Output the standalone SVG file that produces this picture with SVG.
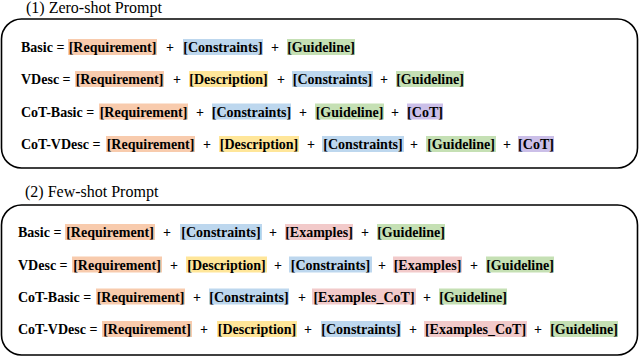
<svg xmlns="http://www.w3.org/2000/svg" width="640" height="357" viewBox="0 0 640 357">
<style>
.panel{fill:#fff;stroke:#000;stroke-width:1.6}
.title{font-family:'Liberation Serif','Times New Roman',Times,'DejaVu Serif',serif;font-size:16px;fill:#000}
.t{font-family:'Liberation Serif','Times New Roman',Times,'DejaVu Serif',serif;font-size:14px;font-weight:bold;fill:#000}
.m{text-anchor:middle}
.req{fill:#F8CBAD}
.con{fill:#BDD7EE}
.gui{fill:#C5E0B4}
.des{fill:#FFE699}
.cot{fill:#CBBFE8}
.ex{fill:#F2CACA}
</style>
<rect width="640" height="357" fill="#fff"/>
<g id="zero-shot">
<text class="title" x="26" y="13" font-family="Liberation Serif">(1) Zero-shot Prompt</text>
<rect class="panel" x="1.5" y="19" width="636" height="149" rx="20"/>
</g>
<g id="zs-basic">
<text class="t" x="21" y="52">Basic =</text>
<rect class="req" x="68" y="39" width="89" height="16"/><text class="t m" x="112.5" y="52">[Requirement]</text>
<text class="t m" x="170" y="52">+</text>
<rect class="con" x="183" y="39" width="80" height="16"/><text class="t m" x="223" y="52">[Constraints]</text>
<text class="t m" x="275" y="52">+</text>
<rect class="gui" x="287" y="39" width="68" height="16"/><text class="t m" x="321" y="52">[Guideline]</text>
</g>
<g id="zs-vdesc">
<text class="t" x="21" y="84">VDesc =</text>
<rect class="req" x="75" y="71" width="89" height="16"/><text class="t m" x="119.5" y="84">[Requirement]</text>
<text class="t m" x="177" y="84">+</text>
<rect class="des" x="189" y="71" width="79" height="16"/><text class="t m" x="228.5" y="84">[Description]</text>
<text class="t m" x="281" y="84">+</text>
<rect class="con" x="292" y="71" width="81" height="16"/><text class="t m" x="332.5" y="84">[Constraints]</text>
<text class="t m" x="384" y="84">+</text>
<rect class="gui" x="396" y="71" width="68" height="16"/><text class="t m" x="430" y="84">[Guideline]</text>
</g>
<g id="zs-cot-basic">
<text class="t" x="21" y="116.5">CoT-Basic =</text>
<rect class="req" x="99" y="103.5" width="89" height="16"/><text class="t m" x="143.5" y="116.5">[Requirement]</text>
<text class="t m" x="200" y="116.5">+</text>
<rect class="con" x="212" y="103.5" width="79" height="16"/><text class="t m" x="251.5" y="116.5">[Constraints]</text>
<text class="t m" x="303" y="116.5">+</text>
<rect class="gui" x="315" y="103.5" width="69" height="16"/><text class="t m" x="349.5" y="116.5">[Guideline]</text>
<text class="t m" x="395" y="116.5">+</text>
<rect class="cot" x="407" y="103.5" width="36" height="16"/><text class="t m" x="425" y="116.5">[CoT]</text>
</g>
<g id="zs-cot-vdesc">
<text class="t" x="21" y="149">CoT-VDesc =</text>
<rect class="req" x="106" y="136" width="89" height="16"/><text class="t m" x="150.5" y="149">[Requirement]</text>
<text class="t m" x="207" y="149">+</text>
<rect class="des" x="219" y="136" width="80" height="16"/><text class="t m" x="259" y="149">[Description]</text>
<text class="t m" x="311" y="149">+</text>
<rect class="con" x="322" y="136" width="82" height="16"/><text class="t m" x="363" y="149">[Constraints]</text>
<text class="t m" x="414" y="149">+</text>
<rect class="gui" x="426" y="136" width="70" height="16"/><text class="t m" x="461" y="149">[Guideline]</text>
<text class="t m" x="507" y="149">+</text>
<rect class="cot" x="518" y="136" width="36" height="16"/><text class="t m" x="536" y="149">[CoT]</text>
</g>
<g id="few-shot">
<text class="title" x="25" y="197">(2) Few-shot Prompt</text>
<rect class="panel" x="1.5" y="205" width="636" height="150" rx="20"/>
</g>
<g id="fs-basic">
<text class="t" x="18" y="237">Basic =</text>
<rect class="req" x="65" y="224" width="90" height="16"/><text class="t m" x="110" y="237">[Requirement]</text>
<text class="t m" x="167" y="237">+</text>
<rect class="con" x="180" y="224" width="82" height="16"/><text class="t m" x="221" y="237">[Constraints]</text>
<text class="t m" x="273" y="237">+</text>
<rect class="ex" x="285" y="224" width="68" height="16"/><text class="t m" x="319" y="237">[Examples]</text>
<text class="t m" x="365" y="237">+</text>
<rect class="gui" x="377" y="224" width="68" height="16"/><text class="t m" x="411" y="237">[Guideline]</text>
</g>
<g id="fs-vdesc">
<text class="t" x="18" y="269.5">VDesc =</text>
<rect class="req" x="72" y="256.5" width="90" height="16"/><text class="t m" x="117" y="269.5">[Requirement]</text>
<text class="t m" x="174" y="269.5">+</text>
<rect class="des" x="186" y="256.5" width="81" height="16"/><text class="t m" x="226.5" y="269.5">[Description]</text>
<text class="t m" x="278" y="269.5">+</text>
<rect class="con" x="289" y="256.5" width="83" height="16"/><text class="t m" x="330.5" y="269.5">[Constraints]</text>
<text class="t m" x="382" y="269.5">+</text>
<rect class="ex" x="393" y="256.5" width="69" height="16"/><text class="t m" x="427.5" y="269.5">[Examples]</text>
<text class="t m" x="474" y="269.5">+</text>
<rect class="gui" x="486" y="256.5" width="68" height="16"/><text class="t m" x="520" y="269.5">[Guideline]</text>
</g>
<g id="fs-cot-basic">
<text class="t" x="18" y="301.5">CoT-Basic =</text>
<rect class="req" x="96" y="288.5" width="89" height="16"/><text class="t m" x="140.5" y="301.5">[Requirement]</text>
<text class="t m" x="197" y="301.5">+</text>
<rect class="con" x="209" y="288.5" width="80" height="16"/><text class="t m" x="249" y="301.5">[Constraints]</text>
<text class="t m" x="302" y="301.5">+</text>
<rect class="ex" x="312" y="288.5" width="104" height="16"/><text class="t m" x="364" y="301.5">[Examples_CoT]</text>
<text class="t m" x="427" y="301.5">+</text>
<rect class="gui" x="439" y="288.5" width="68" height="16"/><text class="t m" x="473" y="301.5">[Guideline]</text>
</g>
<g id="fs-cot-vdesc">
<text class="t" x="18" y="334">CoT-VDesc =</text>
<rect class="req" x="102" y="321" width="90" height="16"/><text class="t m" x="147" y="334">[Requirement]</text>
<text class="t m" x="204" y="334">+</text>
<rect class="des" x="217" y="321" width="80" height="16"/><text class="t m" x="257" y="334">[Description]</text>
<text class="t m" x="308" y="334">+</text>
<rect class="con" x="321" y="321" width="80" height="16"/><text class="t m" x="361" y="334">[Constraints]</text>
<text class="t m" x="413" y="334">+</text>
<rect class="ex" x="424" y="321" width="103" height="16"/><text class="t m" x="475.5" y="334">[Examples_CoT]</text>
<text class="t m" x="538" y="334">+</text>
<rect class="gui" x="550" y="321" width="68" height="16"/><text class="t m" x="584" y="334">[Guideline]</text>
</g>
</svg>
